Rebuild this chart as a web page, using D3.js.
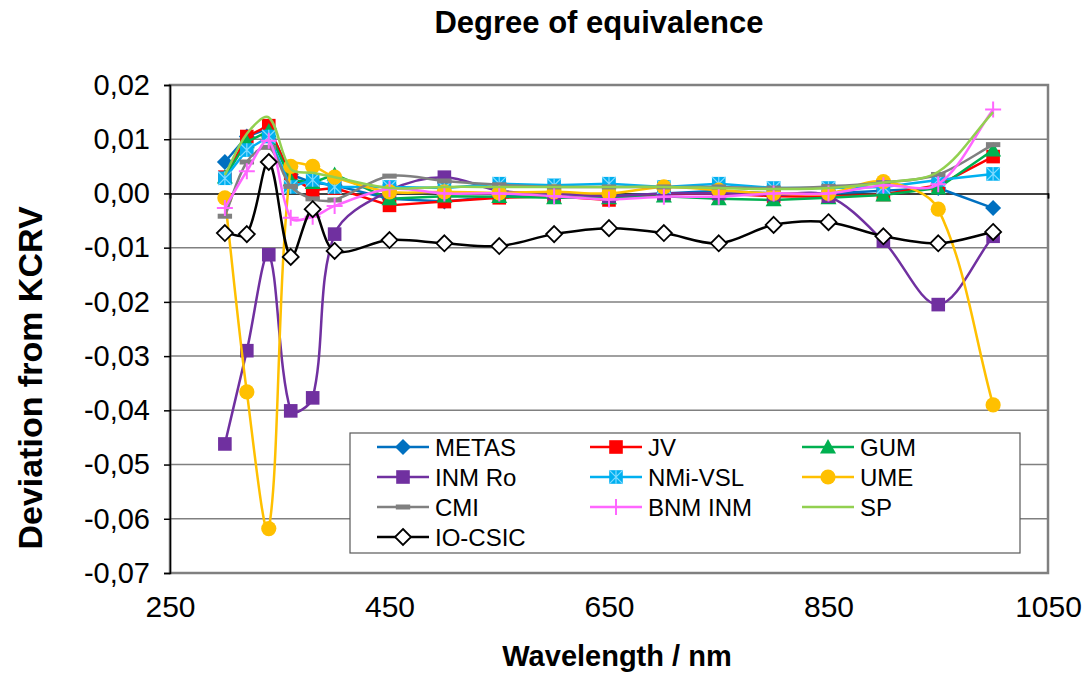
<!DOCTYPE html>
<html><head><meta charset="utf-8">
<script src="https://cdn.jsdelivr.net/npm/d3@7"></script>
<style>body{margin:0;background:#fff;} text{font-family:"Liberation Sans",Arial,sans-serif;}</style>
</head><body>
<svg id="chart" width="1083" height="675"></svg>
<script>
const wavelengths = [300,320,340,360,380,400,450,500,550,600,650,700,750,800,850,900,950,1000];
const METAS   = [0.0058,0.0105,0.0120,0.0035,0.0020,0.0015,-0.0010,-0.0015,-0.0005,0.0000,-0.0005,0.0000,0.0005,0.0000,0.0000,0.0005,0.0010,-0.0027];
const JV      = [0.0030,0.0105,0.0125,0.0030,0.0006,0.0010,-0.0022,-0.0015,-0.0008,-0.0005,-0.0012,0.0000,0.0000,-0.0005,-0.0006,-0.0002,0.0015,0.0068];
const GUM     = [0.0030,0.0095,0.0115,0.0025,0.0020,0.0035,-0.0010,-0.0005,-0.0006,-0.0008,-0.0008,-0.0005,-0.0010,-0.0012,-0.0008,-0.0003,0.0010,0.0080];
const INM_Ro  = [-0.0462,-0.0290,-0.0113,-0.0401,-0.0377,-0.0075,0.0005,0.0030,0.0005,0.0000,-0.0005,0.0000,0.0000,-0.0002,-0.0005,-0.0088,-0.0205,-0.0079];
const NMi_VSL = [0.0028,0.0080,0.0105,0.0012,0.0025,0.0012,0.0012,0.0010,0.0018,0.0015,0.0018,0.0012,0.0018,0.0010,0.0010,0.0012,0.0025,0.0036];
const UME     = [-0.0008,-0.0366,-0.0618,0.0050,0.0050,0.0030,0.0003,0.0003,0.0001,0.0003,0.0000,0.0012,0.0006,0.0000,0.0000,0.0022,-0.0029,-0.0390];
const CMI     = [-0.0042,0.0058,0.0085,0.0013,-0.0010,-0.0012,0.0032,0.0023,0.0016,0.0012,0.0012,0.0012,0.0012,0.0010,0.0013,0.0020,0.0035,0.0090];
const BNM_INM = [-0.0027,0.0041,0.0097,-0.0045,-0.0043,-0.0023,0.0008,0.0000,0.0000,-0.0005,-0.0011,-0.0006,-0.0006,0.0000,0.0000,0.0015,0.0017,0.0155];
const SP      = [0.0034,0.0110,0.0140,0.0045,0.0038,0.0030,0.0010,0.0012,0.0012,0.0012,0.0012,0.0012,0.0010,0.0008,0.0010,0.0020,0.0040,0.0150];
const IO_CSIC = [-0.0073,-0.0075,0.0058,-0.0117,-0.0029,-0.0106,-0.0086,-0.0092,-0.0097,-0.0075,-0.0064,-0.0073,-0.0092,-0.0058,-0.0053,-0.0079,-0.0092,-0.0071];
const xTicks = [250,450,650,850,1050];
const yTicks = [0.02,0.01,0,-0.01,-0.02,-0.03,-0.04,-0.05,-0.06,-0.07];

const series = [
  {name:"METAS", values:METAS, color:"#0070C0", marker:"diamond", smooth:false},
  {name:"JV", values:JV, color:"#FF0000", marker:"square", smooth:false},
  {name:"GUM", values:GUM, color:"#00B050", marker:"triangle", smooth:false},
  {name:"INM Ro", values:INM_Ro, color:"#7030A0", marker:"square", smooth:true},
  {name:"NMi-VSL", values:NMi_VSL, color:"#00B0F0", marker:"star", smooth:false},
  {name:"UME", values:UME, color:"#FFC000", marker:"circle", smooth:true},
  {name:"CMI", values:CMI, color:"#808080", marker:"dash", smooth:true},
  {name:"BNM INM", values:BNM_INM, color:"#FF66FF", marker:"plus", smooth:true},
  {name:"SP", values:SP, color:"#92D050", marker:"none", smooth:true},
  {name:"IO-CSIC", values:IO_CSIC, color:"#000000", marker:"opendiamond", smooth:true}
];

const svg = d3.select("#chart");
const L=170, R=1048, T=85, B=573;
const x = d3.scaleLinear().domain([250,1050]).range([L,R]);
const y = d3.scaleLinear().domain([-0.07,0.02]).range([B,T]);
const fmt = v => d3.format(".2f")(v).replace(".",",").replace("\u2212","-");
const FONT = "Liberation Sans, Arial, sans-serif";

// Excel-like smoothing: Bezier with chord-weighted tangents
function smoothPath(p) {
  const path = d3.path();
  path.moveTo(p[0][0], p[0][1]);
  const dist = (a,b)=>Math.hypot(b[0]-a[0], b[1]-a[1]);
  for (let i=0;i<p.length-1;i++){
    const p0 = p[Math.max(i-1,0)], p1=p[i], p2=p[i+1], p3=p[Math.min(i+2,p.length-1)];
    const a=dist(p0,p1), b=dist(p1,p2), c=dist(p2,p3);
    const f1 = (a+b)>0 ? b/(a+b)/3 : 0;
    const f2 = (b+c)>0 ? b/(b+c)/3 : 0;
    const c1=[p1[0]+(p2[0]-p0[0])*f1, p1[1]+(p2[1]-p0[1])*f1];
    const c2=[p2[0]-(p3[0]-p1[0])*f2, p2[1]-(p3[1]-p1[1])*f2];
    path.bezierCurveTo(c1[0],c1[1],c2[0],c2[1],p2[0],p2[1]);
  }
  return path.toString();
}

// gridlines
svg.append("g").selectAll("line").data(yTicks.filter(v=>v!==0)).join("line")
  .attr("x1",L).attr("x2",R).attr("y1",d=>y(d)).attr("y2",d=>y(d))
  .attr("stroke","#808080").attr("stroke-width",1.5);
// plot border
svg.append("rect").attr("x",L).attr("y",T).attr("width",R-L).attr("height",B-T)
  .attr("fill","none").attr("stroke","#808080").attr("stroke-width",2.5);
// y axis
const yAxis = d3.axisLeft(y).tickValues(yTicks).tickFormat(fmt).tickSize(6).tickPadding(14);
const gy = svg.append("g").attr("transform",`translate(${L},0)`).call(yAxis);
gy.select(".domain").attr("stroke","#000").attr("stroke-width",1.5);
gy.selectAll(".tick line").attr("stroke","#000").attr("stroke-width",1.5);
gy.selectAll("text").attr("font-size",29).attr("fill","#000").style("font-family",FONT);
// x axis labels at bottom
const xAxis = d3.axisBottom(x).tickValues(xTicks).tickFormat(d3.format("d")).tickSize(0).tickPadding(23);
const gx = svg.append("g").attr("transform",`translate(0,${B})`).call(xAxis);
gx.select(".domain").remove();
gx.selectAll("text").attr("font-size",30).attr("fill","#000").style("font-family",FONT);
// zero line (horizontal axis crossing)
const gz = svg.append("g").attr("transform",`translate(0,${y(0)})`)
  .call(d3.axisBottom(x).tickValues(xTicks).tickFormat("").tickSize(5));
gz.select(".domain").attr("stroke","#000").attr("stroke-width",1.5);
gz.selectAll(".tick line").attr("stroke","#000").attr("stroke-width",1.5);

// series
function drawMarker(g, m, color, s) {
  if (m==="diamond") g.append("path").attr("d",`M0,${-s}L${s},0L0,${s}L${-s},0Z`).attr("fill",color);
  else if (m==="opendiamond") g.append("path").attr("d",`M0,${-s}L${s},0L0,${s}L${-s},0Z`).attr("fill","#fff").attr("stroke","#000").attr("stroke-width",1.8);
  else if (m==="square") g.append("rect").attr("x",-s*0.85).attr("y",-s*0.85).attr("width",s*1.7).attr("height",s*1.7).attr("fill",color);
  else if (m==="triangle") g.append("path").attr("d",`M0,${-s}L${s},${s*0.8}L${-s},${s*0.8}Z`).attr("fill",color);
  else if (m==="circle") g.append("circle").attr("r",s*0.95).attr("fill",color);
  else if (m==="dash") g.append("rect").attr("x",-s*0.9).attr("y",-2.5).attr("width",s*1.8).attr("height",5).attr("fill",color);
  else if (m==="plus") g.append("path").attr("d",`M${-s},0H${s}M0,${-s}V${s}`).attr("stroke",color).attr("stroke-width",2);
  else if (m==="star") {
    g.append("rect").attr("x",-s*0.85).attr("y",-s*0.85).attr("width",s*1.7).attr("height",s*1.7).attr("fill",color);
    const k=s*0.85;
    g.append("path").attr("d",`M${-k},${-k}L${k},${k}M${-k},${k}L${k},${-k}M0,${-k}V${k}`).attr("stroke","#7FDBFF").attr("stroke-width",1.2);
  }
}
const plot = svg.append("g");
series.forEach(s => {
  const pts = wavelengths.map((w,i)=>[x(w),y(s.values[i])]);
  const d = s.smooth ? smoothPath(pts) : d3.line()(pts);
  plot.append("path").attr("d",d).attr("fill","none")
    .attr("stroke",s.color).attr("stroke-width",2.5).attr("stroke-linejoin","round");
  if (s.marker!=="none") {
    pts.forEach(p => {
      const g = plot.append("g").attr("transform",`translate(${p[0]},${p[1]})`);
      drawMarker(g, s.marker, s.color, 8);
    });
  }
});

// legend
const lg = svg.append("g");
lg.append("rect").attr("x",350).attr("y",433).attr("width",670).attr("height",120)
  .attr("fill","#fff").attr("stroke","#595959").attr("stroke-width",1.2);
const colX=[377,590,802], rowY=[447,477,507,537];
series.forEach((s,i)=>{
  const cx = colX[i%3], cy = rowY[Math.floor(i/3)];
  lg.append("line").attr("x1",cx).attr("x2",cx+52).attr("y1",cy).attr("y2",cy)
    .attr("stroke",s.color).attr("stroke-width",2.5);
  if (s.marker!=="none") drawMarker(lg.append("g").attr("transform",`translate(${cx+26},${cy})`), s.marker, s.color, 8);
  lg.append("text").attr("x",cx+58).attr("y",cy).attr("dy","0.36em").attr("font-size",24).text(s.name);
});

// titles
svg.append("text").attr("x",599).attr("y",33).attr("text-anchor","middle")
  .attr("font-size",31).attr("font-weight","bold").text("Degree of equivalence");
svg.append("text").attr("x",617).attr("y",666).attr("text-anchor","middle")
  .attr("font-size",29).attr("font-weight","bold").text("Wavelength / nm");
svg.append("text").attr("transform","translate(42,378) rotate(-90)").attr("text-anchor","middle")
  .attr("font-size",34).attr("font-weight","bold").text("Deviation from KCRV");
</script>
</body></html>
